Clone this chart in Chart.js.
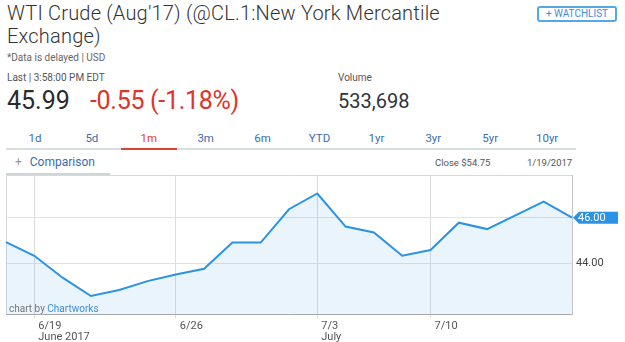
<!DOCTYPE html>
<html>
<head>
<meta charset="utf-8">
<script src="https://cdn.jsdelivr.net/npm/chart.js@4.4.1/dist/chart.umd.min.js"></script>
<style>
  body { margin: 0; background: #fff; font-family: Roboto, 'Open Sans', sans-serif; width: 625px; height: 342px; overflow: hidden; position: relative; }
  .abs { position: absolute; white-space: nowrap; }
  .title { left: 7px; top: 2px; font-size: 20px; line-height: 23px; color: #333; font-weight: 300; letter-spacing: 0.2px; }
  .sub { left: 7px; top: 52px; font-size: 10px; color: #666; }
  .last { left: 7px; top: 72px; font-size: 10px; color: #555; }
  .vol-lbl { left: 338px; top: 72px; font-size: 10px; color: #555; }
  .price { left: 7px; top: 86px; font-size: 25px; color: #2b2b2b; }
  .chg { left: 90px; top: 86px; font-size: 25px; color: #e0342a; letter-spacing: -0.3px; }
  .vol { left: 338px; top: 89px; font-size: 20px; color: #2e3440; }
  .watch { left: 537px; top: 6px; width: 76px; height: 12px; border: 2px solid #57a7e6; border-radius: 3px; font-size: 10px; color: #3d8fd8; text-align: center; line-height: 12px; }
  .tabs { left: 6px; top: 131px; width: 570px; height: 17px; border-bottom: 2px solid #d6dee0; }
  .tab { position: absolute; top: 0; width: 56px; text-align: center; font-size: 11.5px; color: #3a6db0; }
  .tab.on { color: #e2432c; border-bottom: 2px solid #e2432c; height: 17px; }
  .cmp { left: 15px; top: 155px; font-size: 12px; color: #3a6db0; }
  .cmp span { color: #999; margin-right: 8px; }
  .cmpbar { left: 6px; top: 173px; width: 104px; height: 2px; background: #cfd6d8; }
  .close { left: 435px; top: 157px; font-size: 9.5px; color: #555; }
  .cdate { left: 527px; top: 157px; font-size: 9.5px; color: #555; }
  .credit { left: 9px; top: 303px; font-size: 10px; color: #777; }
  .credit b { font-weight: normal; color: #3d8fd8; }
  #chart { position: absolute; left: 0; top: 170px; }
</style>
</head>
<body>
<div class="abs title">WTI Crude (Aug'17) (@CL.1:New York Mercantile<br>Exchange)</div>
<div class="abs sub">*Data is delayed | USD</div>
<div class="abs last">Last | 3:58:00 PM EDT</div>
<div class="abs vol-lbl">Volume</div>
<div class="abs price">45.99</div>
<div class="abs chg">-0.55 (-1.18%)</div>
<div class="abs vol">533,698</div>
<div class="abs watch">+ WATCHLIST</div>
<div class="abs tabs" id="tabs"></div>
<div class="abs cmp"><span>+</span>Comparison</div>
<div class="abs cmpbar"></div>
<div class="abs close">Close $54.75</div>
<div class="abs cdate">1/19/2017</div>
<canvas id="chart" width="625" height="172"></canvas>
<div class="abs credit">chart by <b>Chartworks</b></div>

<script>
// price data
const dates = ['6/16', '6/19', '6/20', '6/21', '6/22', '6/23', '6/26', '6/27', '6/28', '6/29', '6/30',
               '7/3', '7/5', '7/6', '7/7', '7/10', '7/11', '7/12', '7/13', '7/14', '7/17'];
const closes = [44.93, 44.33, 43.37, 42.57, 42.83, 43.22, 43.51, 43.76, 44.91, 44.91, 46.37,
                47.06, 45.61, 45.35, 44.33, 44.58, 45.78, 45.50, 46.10, 46.70, 46.00];
const axisTicks = ['6/19', '6/26', '7/3', '7/10'];
const monthTicks = ['6/19', '7/3'];
const monthNames = ['June 2017', 'July'];
const yTicks = [44, 46];
const tabNames = ['1d', '5d', '1m', '3m', '6m', 'YTD', '1yr', '3yr', '5yr', '10yr'];

// tabs row
const tabs = document.getElementById('tabs');
tabNames.forEach((t, i) => {
    const el = document.createElement('div');
    el.className = 'tab' + (t === '1m' ? ' on' : '');
    el.style.left = (1 + i * 56.9) + 'px';
    el.textContent = t;
    tabs.appendChild(el);
});

const lineColor = '#2b93e6';

// top/left frame of the plot
const framePlugin = {
    id: 'frame',
    beforeDraw(chart) {
        const { ctx, chartArea: a } = chart;
        ctx.save();
        ctx.strokeStyle = '#d8d8d8';
        ctx.lineWidth = 1;
        ctx.beginPath();
        ctx.moveTo(a.left + 0.5, a.bottom);
        ctx.lineTo(a.left + 0.5, a.top + 0.5);
        ctx.lineTo(a.right, a.top + 0.5);
        ctx.stroke();
        ctx.restore();
    }
};

// last value tag on the right axis
const tagPlugin = {
    id: 'lastTag',
    afterDraw(chart) {
        const { ctx, chartArea: a } = chart;
        const last = closes[closes.length - 1];
        const y = chart.scales.y.getPixelForValue(last);
        const x = a.right + 1;
        ctx.save();
        ctx.fillStyle = lineColor;
        ctx.beginPath();
        ctx.moveTo(x, y);
        ctx.lineTo(x + 6, y - 6);
        ctx.lineTo(x + 45, y - 6);
        ctx.lineTo(x + 45, y + 6);
        ctx.lineTo(x + 6, y + 6);
        ctx.closePath();
        ctx.fill();
        ctx.fillStyle = '#fff';
        ctx.font = '11px Roboto, sans-serif';
        ctx.textBaseline = 'middle';
        ctx.fillText(last.toFixed(2), x + 5, y + 0.5);
        ctx.restore();
    }
};

new Chart(document.getElementById('chart'), {
    type: 'line',
    data: {
        labels: dates,
        datasets: [{
            data: closes,
            borderColor: lineColor,
            borderWidth: 2,
            backgroundColor: 'rgba(43, 147, 230, 0.1)',
            fill: 'start',
            tension: 0,
            pointRadius: 0
        }]
    },
    options: {
        responsive: false,
        animation: false,
        layout: { padding: { left: 6, top: 5 } },
        plugins: { legend: { display: false }, tooltip: { enabled: false } },
        scales: {
            x: {
                type: 'category',
                offset: false,
                afterBuildTicks: (scale) => {
                    scale.ticks = scale.ticks.filter(t => axisTicks.includes(dates[t.value]));
                },
                afterFit: (scale) => { scale.height = 28; },
                grid: { color: '#dcdcdc', tickLength: 4, offset: false },
                border: { color: '#a8a8a8' },
                ticks: {
                    autoSkip: false,
                    maxRotation: 0,
                    align: 'start',
                    labelOffset: 4,
                    padding: 2,
                    color: '#555',
                    font: { family: 'Roboto, sans-serif', size: 11, lineHeight: 1.05 },
                    callback: (value) => {
                        const d = dates[value];
                        const m = monthTicks.indexOf(d);
                        return m >= 0 ? [d, monthNames[m]] : d;
                    }
                }
            },
            y: {
                position: 'right',
                min: 41.78,
                max: 47.87,
                afterBuildTicks: (scale) => {
                    scale.ticks = yTicks.map(v => ({ value: v }));
                },
                afterFit: (scale) => {
                    scale.width = 53;
                    scale.paddingTop = 0;
                    scale.paddingBottom = 0;
                },
                grid: { color: '#e2e2e2', drawTicks: false },
                border: { color: '#c4c4c4' },
                ticks: {
                    padding: 4,
                    color: '#444',
                    font: { family: 'Roboto, sans-serif', size: 11 },
                    callback: (v) => v.toFixed(2)
                }
            }
        }
    },
    plugins: [framePlugin, tagPlugin]
});
</script>
</body>
</html>
